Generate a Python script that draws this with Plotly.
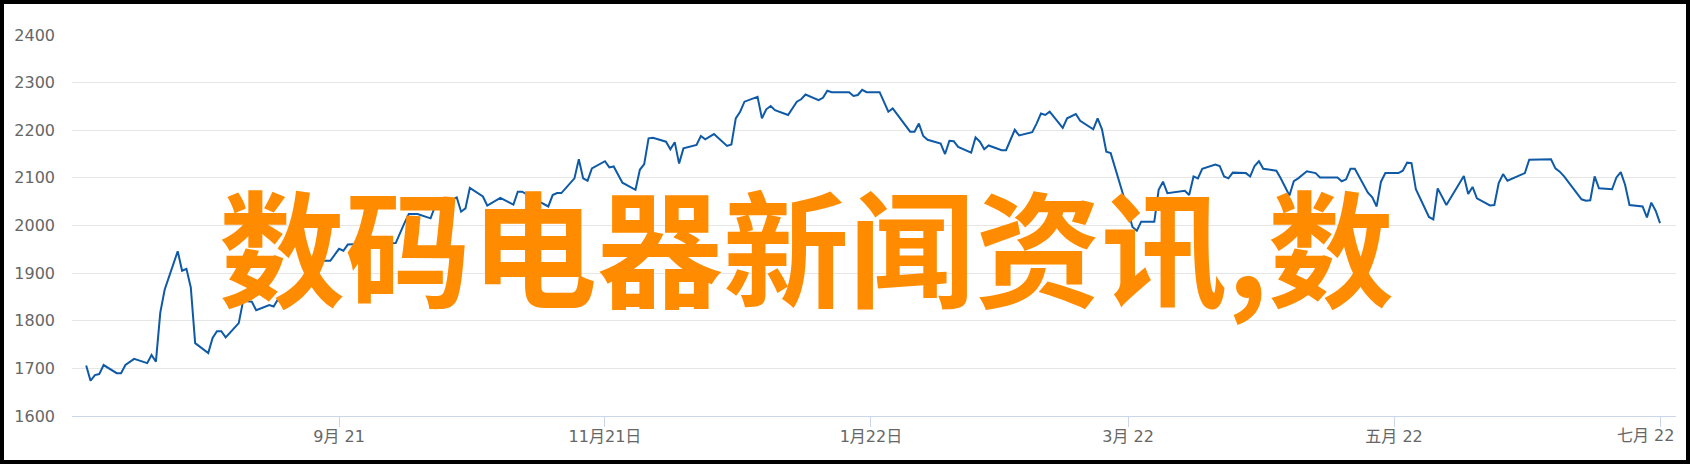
import plotly.graph_objects as go

# ---------------- data ----------------
dates = [
    "2021-07-05", "2021-07-06", "2021-07-07", "2021-07-08", "2021-07-09",
    "2021-07-12", "2021-07-13", "2021-07-14", "2021-07-16", "2021-07-19",
    "2021-07-20", "2021-07-21", "2021-07-22", "2021-07-23", "2021-07-26",
    "2021-07-27", "2021-07-28", "2021-07-29", "2021-07-30", "2021-08-02",
    "2021-08-03", "2021-08-04", "2021-08-05", "2021-08-06", "2021-08-09",
    "2021-08-10", "2021-08-12", "2021-08-13", "2021-08-16", "2021-08-17",
    "2021-08-18", "2021-08-20", "2021-08-24", "2021-08-28", "2021-08-30",
    "2021-09-01", "2021-09-02", "2021-09-03", "2021-09-08", "2021-09-13",
    "2021-09-14", "2021-09-16", "2021-09-17", "2021-09-19", "2021-09-22",
    "2021-09-23", "2021-09-26", "2021-09-28", "2021-09-29", "2021-09-30",
    "2021-10-01", "2021-10-04", "2021-10-05", "2021-10-08", "2021-10-11",
    "2021-10-12", "2021-10-13", "2021-10-16", "2021-10-19", "2021-10-20",
    "2021-10-21", "2021-10-22", "2021-10-25", "2021-10-26", "2021-10-27",
    "2021-10-28", "2021-10-29", "2021-11-01", "2021-11-02", "2021-11-03",
    "2021-11-05", "2021-11-08", "2021-11-09", "2021-11-10", "2021-11-11",
    "2021-11-12", "2021-11-15", "2021-11-16", "2021-11-17", "2021-11-18",
    "2021-11-19", "2021-11-22", "2021-11-23", "2021-11-24", "2021-11-26",
    "2021-11-29", "2021-11-30", "2021-12-01", "2021-12-02", "2021-12-03",
    "2021-12-06", "2021-12-07", "2021-12-08", "2021-12-09", "2021-12-10",
    "2021-12-13", "2021-12-15", "2021-12-16", "2021-12-17", "2021-12-20",
    "2021-12-21", "2021-12-22", "2021-12-23", "2021-12-27", "2021-12-28",
    "2021-12-29", "2021-12-30", "2021-12-31", "2022-01-03", "2022-01-05",
    "2022-01-06", "2022-01-10", "2022-01-11", "2022-01-12", "2022-01-13",
    "2022-01-14", "2022-01-17", "2022-01-18", "2022-01-19", "2022-01-20",
    "2022-01-21", "2022-01-24", "2022-01-25", "2022-01-26", "2022-01-27",
    "2022-01-28", "2022-01-31", "2022-02-01", "2022-02-03", "2022-02-04",
    "2022-02-07", "2022-02-08", "2022-02-09", "2022-02-10", "2022-02-11",
    "2022-02-14", "2022-02-15", "2022-02-17", "2022-02-18", "2022-02-21",
    "2022-02-22", "2022-02-23", "2022-02-24", "2022-02-25", "2022-02-28",
    "2022-03-01", "2022-03-02", "2022-03-03", "2022-03-04", "2022-03-07",
    "2022-03-08", "2022-03-09", "2022-03-10", "2022-03-14", "2022-03-15",
    "2022-03-16", "2022-03-17", "2022-03-18", "2022-03-21", "2022-03-22",
    "2022-03-23", "2022-03-24", "2022-03-25", "2022-03-28", "2022-03-29",
    "2022-03-30", "2022-03-31", "2022-04-01", "2022-04-04", "2022-04-05",
    "2022-04-07", "2022-04-08", "2022-04-09", "2022-04-11", "2022-04-13",
    "2022-04-14", "2022-04-18", "2022-04-19", "2022-04-20", "2022-04-21",
    "2022-04-22", "2022-04-25", "2022-04-26", "2022-04-27", "2022-04-28",
    "2022-04-29", "2022-05-02", "2022-05-03", "2022-05-04", "2022-05-05",
    "2022-05-06", "2022-05-09", "2022-05-10", "2022-05-11", "2022-05-13",
    "2022-05-14", "2022-05-17", "2022-05-18", "2022-05-19", "2022-05-20",
    "2022-05-23", "2022-05-24", "2022-05-25", "2022-05-26", "2022-05-27",
    "2022-05-31", "2022-06-01", "2022-06-06", "2022-06-07", "2022-06-08",
    "2022-06-09", "2022-06-13", "2022-06-14", "2022-06-15", "2022-06-16",
    "2022-06-17", "2022-06-20", "2022-06-21", "2022-06-22", "2022-06-23",
    "2022-06-24", "2022-06-27", "2022-06-28", "2022-06-29", "2022-06-30",
    "2022-07-01",
]

prices = [
    1706, 1674, 1686, 1688, 1707,
    1690, 1690, 1707, 1720, 1711,
    1728, 1714, 1817, 1865, 1946,
    1905, 1909, 1870, 1753, 1732,
    1764, 1778, 1778, 1765, 1795,
    1842, 1840, 1822, 1833, 1830,
    1845, 1855, 1868, 1926, 1926,
    1951, 1947, 1960, 1962, 1964,
    1963, 2005, 2024, 2024, 2015,
    2040, 2050, 2059, 2029, 2036,
    2079, 2061, 2042, 2058, 2044,
    2071, 2071, 2055, 2040, 2064,
    2068, 2068, 2099, 2139, 2099,
    2094, 2120, 2135, 2122, 2124,
    2090, 2075, 2117, 2129, 2183,
    2184, 2176, 2160, 2175, 2130,
    2162, 2169, 2188, 2181, 2192,
    2167, 2170, 2225, 2239, 2260,
    2270, 2225, 2244, 2251, 2242,
    2232, 2260, 2265, 2275, 2263,
    2268, 2283, 2280, 2280, 2272,
    2274, 2285, 2280, 2280, 2239,
    2246, 2197, 2197, 2214, 2188,
    2180, 2172, 2150, 2178, 2177,
    2165, 2153, 2185, 2176, 2160,
    2168, 2158, 2158, 2201, 2189,
    2196, 2214, 2235, 2232, 2239,
    2205, 2225, 2234, 2220, 2202,
    2225, 2202, 2155, 2152, 2064,
    2030, 1997, 1989, 2008, 2008,
    2075, 2092, 2068, 2073, 2064,
    2103, 2099, 2119, 2128, 2125,
    2103, 2099, 2111, 2110, 2103,
    2125, 2135, 2119, 2115, 2099,
    2063, 2093, 2099, 2114, 2110,
    2101, 2101, 2093, 2097, 2119,
    2119, 2069, 2059, 2040, 2092,
    2110, 2110, 2115, 2132, 2131,
    2076, 2018, 2013, 2078, 2043,
    2059, 2104, 2066, 2081, 2057,
    2042, 2043, 2089, 2108, 2094,
    2110, 2138, 2139, 2120, 2113,
    2103, 2055, 2052, 2053, 2103,
    2078, 2076, 2101, 2112, 2085,
    2043, 2040, 2017, 2048, 2031,
    2005,
]

tick_vals = ["2021-09-01", "2021-11-01", "2022-01-01",
             "2022-03-01", "2022-05-01", "2022-07-01"]
tick_text = ["9月 21", "11月21日", "1月22日", "3月 22", "五月 22", "七月 22"]

overlay_text = "数码电器新闻资讯,数"

# ---------------- figure ----------------
W, H = 1690, 464
M_L, M_R, M_T, M_B = 72, 14, 35, 48
PW, PH = W - M_L - M_R, H - M_T - M_B

fig = go.Figure()
fig.add_trace(go.Scatter(
    x=dates, y=prices, mode="lines",
    line=dict(color="#0f5aa6", width=2),
    hoverinfo="skip", showlegend=False,
))

label_font = dict(family="DejaVu Sans, Noto Sans CJK SC, sans-serif", size=16, color="#666666")

# the last label is kept inside the plot (right-aligned to the axis end),
# so it is drawn as an annotation; its tick keeps an empty label
axis_text = tick_text[:-1] + [""]

fig.update_layout(
    width=W, height=H,
    margin=dict(l=M_L, r=M_R, t=M_T, b=M_B),
    paper_bgcolor="white", plot_bgcolor="white",
    xaxis=dict(
        type="date",
        range=["2021-07-01 18:00", "2022-07-04 16:00"],
        tickmode="array", tickvals=tick_vals, ticktext=axis_text,
        ticks="outside", ticklen=10, tickcolor="#ccd6eb", tickwidth=1,
        showline=True, linecolor="#ccd6eb", linewidth=1,
        showgrid=False, zeroline=False,
        ticklabelstandoff=-4,
        tickfont=label_font,
    ),
    yaxis=dict(
        range=[1600, 2400], dtick=100, tick0=1600,
        showgrid=True, gridcolor="#e6e6e6", gridwidth=1,
        zeroline=False, showline=False, ticks="",
        ticklabelstandoff=16,
        tickfont=label_font,
    ),
)

fig.add_annotation(
    xref="paper", yref="paper", x=1, y=(416 - 435) / PH,
    xanchor="right", yanchor="middle",
    text=tick_text[-1], showarrow=False, font=label_font,
)

# big orange overlay text
fig.add_annotation(
    xref="paper", yref="paper",
    x=(217 - M_L) / PW, y=(416 - 243) / PH,
    xanchor="left", yanchor="middle",
    text=overlay_text, showarrow=False,
    font=dict(family="Noto Sans CJK SC", size=126, color="#ff8c00", weight="bold"),
)

# black frame around the picture
fig.add_shape(
    type="rect", xref="paper", yref="paper",
    x0=(2 - M_L) / PW, x1=(W - 2 - M_L) / PW,
    y0=(416 - (H - 2)) / PH, y1=(416 - 2) / PH,
    line=dict(color="black", width=4), layer="above",
)

# page has a default 8px body margin; drop it so the figure sits at the corner
fig.write_html(
    "out.html",
    config={"displayModeBar": False},
    post_script="document.body.style.margin='0';document.body.style.overflow='hidden';",
)
